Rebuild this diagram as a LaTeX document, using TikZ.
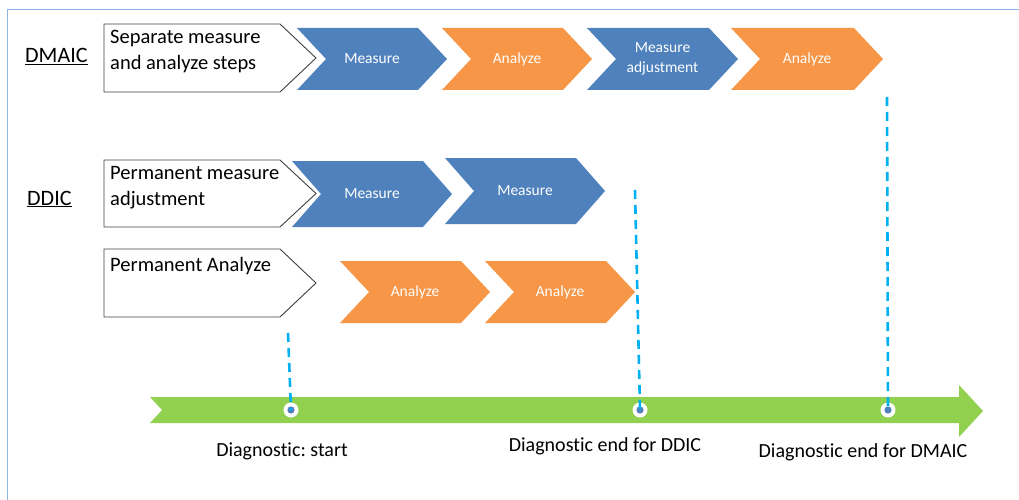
\documentclass[tikz,border=0pt]{standalone}
\usepackage{fontspec}
\setmainfont{Carlito}[Ligatures=NoCommon]
\frenchspacing
\definecolor{chblue}{HTML}{4F81BD}
\definecolor{chorange}{HTML}{F79646}
\definecolor{axgreen}{HTML}{92D050}
\definecolor{dashblue}{HTML}{00B0F0}
\definecolor{framecol}{HTML}{8DB4E2}
\definecolor{boxcol}{HTML}{404040}
\newcommand\mkchev[7]{%
  \fill[#6] (#2,#3) -- ({#2+#5-29},#3) -- ({#2+#5},{(#3+#4)/2}) -- ({#2+#5-29},#4) -- (#2,#4) -- ({#2+29},{(#3+#4)/2}) -- cycle;
  \node[chevtext] (#1) at ({#2+#5/2},{(#3+#4)/2}) {#7};
}
\newcommand\mkwbox[3]{%
  \draw[boxline] (104,#2) -- (280,#2) -- (316,{(#2+#3)/2}) -- (280,#3) -- (104,#3) -- cycle;
  \coordinate (#1) at (110,#2);
}
\begin{document}
\begin{tikzpicture}[x=1pt,y=-1pt,
  chevtext/.style={text=white, font=\fontsize{15.5}{20}\selectfont\frenchspacing, align=center, inner sep=0pt},
  boxline/.style={draw=boxcol, line width=0.9pt, fill=white, line join=miter},
  boxtext/.style={font=\fontsize{20.5}{25.5}\selectfont\frenchspacing, align=left, inner sep=0pt, anchor=north west},
  rowlabel/.style={font=\fontsize{22}{26}\selectfont, inner sep=0pt, anchor=base west},
  axlabel/.style={font=\fontsize{20}{24}\selectfont\frenchspacing, inner sep=0pt},
  dashline/.style={draw=dashblue, line width=2.6pt, dash pattern=on 9pt off 6pt},
  ring/.style={circle, fill=white, minimum size=15pt, inner sep=0pt}]
\useasboundingbox (0,0) rectangle (1019,500);
\draw[framecol, line width=1.3pt] (7.5,500) -- (7.5,9.5) -- (1019,9.5);

% row labels
\node[rowlabel] (dmaic) at (25,62.7) {\underline{DMAIC}};
\node[rowlabel] (ddic) at (27,205) {\underline{DDIC}};

% white boxes
\mkwbox{b1}{24}{92}
\node[boxtext] (t1) at (110,30) {Separate measure\\and analyze steps};
\mkwbox{b2}{160}{227}
\node[boxtext] (t2) at (110,166.5) {Permanent measure\\adjustment};
\mkwbox{b3}{249}{317}
\node[boxtext] (t3) at (110,257) {Permanent Analyze};

% DMAIC chevrons
\mkchev{m1}{297}{28}{90}{150}{chblue}{Measure}
\mkchev{a1}{442}{28}{90}{150}{chorange}{Analyze}
\mkchev{m2}{587}{28}{90}{151}{chblue}{Measure\\adjustment}
\mkchev{a2}{731}{28}{90}{152}{chorange}{Analyze}

% DDIC chevrons
\mkchev{m3}{292}{161}{227}{160}{chblue}{Measure}
\mkchev{m4}{445}{158}{224}{160}{chblue}{Measure}
\mkchev{a3}{340}{261}{323}{150}{chorange}{Analyze}
\mkchev{a4}{485}{261}{323}{150}{chorange}{Analyze}

% time axis
\fill[axgreen] (150,397) -- (959,397) -- (959,385) -- (983,411) -- (959,437) -- (959,423) -- (150,423) -- (162,410) -- cycle;

\node[ring] (c1) at (291,410) {};
\node[ring] (c2) at (640,410) {};
\node[ring] (c3) at (888,410) {};
\foreach \c in {c1,c2,c3} \fill[chblue] (\c.center) circle (3.6pt);

\coordinate (d1) at (288,333);
\coordinate (d2) at (635,190);
\coordinate (d3) at (887,97);
\draw[dashline] (d1) -- (c1.center);
\draw[dashline] (d2) -- (c2.center);
\draw[dashline] (d3) -- (c3.center);

\node[axlabel] (l1) at (282,451) {Diagnostic: start};
\node[axlabel] (l2) at (605,446) {Diagnostic end for DDIC};
\node[axlabel] (l3) at (863,452) {Diagnostic end for DMAIC};
\end{tikzpicture}
\end{document}
